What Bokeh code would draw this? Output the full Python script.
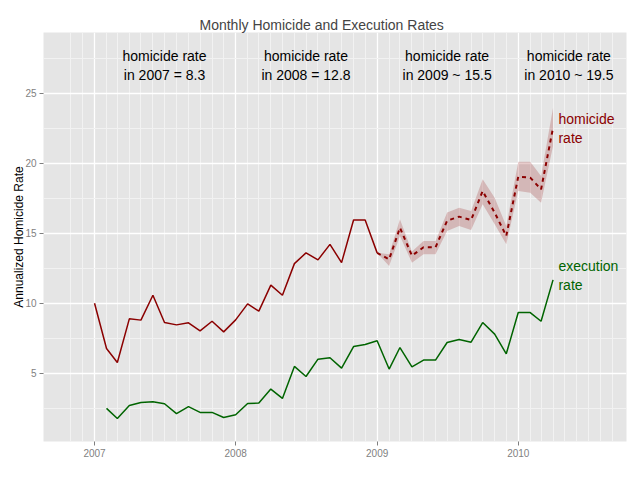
import pandas as pd
from bokeh.plotting import figure
from bokeh.models import ColumnDataSource, Range1d, FixedTicker, DatetimeTickFormatter
from bokeh.core.properties import value
from bokeh.embed import file_html
from bokeh.resources import INLINE

FONT = "Liberation Sans"

# ---- data ----
homicide_months = pd.date_range("2007-01-01", "2009-01-01", freq="MS")
homicide_rate = [10.0, 6.76, 5.76, 8.88, 8.79, 10.57, 8.62, 8.45, 8.6, 8.02, 8.71, 7.95,
                 8.81, 9.95, 9.43, 11.29, 10.57, 12.83, 13.6, 13.1, 14.21, 12.9, 15.95, 15.95,
                 13.6]

proj_months = pd.date_range("2009-01-01", "2010-04-01", freq="MS")
proj_rate = [13.6, 13.14, 15.4, 13.4, 14.0, 14.0, 15.9, 16.19, 15.95, 18.02, 16.48, 14.81,
             19.05, 18.98, 18.14, 22.55]
proj_lower = [13.6, 12.66, 14.8, 12.9, 13.5, 13.5, 15.16, 15.52, 15.24, 17.07, 15.64, 14.21,
              18.02, 17.9, 17.19, 21.24]
proj_upper = [13.6, 13.5, 16.0, 13.7, 14.45, 14.45, 16.48, 16.83, 16.6, 18.86, 17.55, 15.52,
              20.12, 20.12, 19.1, 23.98]

exec_months = pd.date_range("2007-02-01", "2010-04-01", freq="MS")
exec_rate = [2.48, 1.76, 2.69, 2.9, 2.95, 2.81, 2.1, 2.6, 2.19, 2.19, 1.83,
             2.02, 2.83, 2.86, 3.86, 3.19, 5.48, 4.76, 6.0, 6.1, 5.36, 6.9, 7.05,
             7.31, 5.29, 6.83, 5.45, 5.93, 5.93, 7.19, 7.4, 7.21, 8.62, 7.79, 6.38,
             9.33, 9.33, 8.71, 11.67]

ann_x = pd.to_datetime(["2007-07-01", "2008-07-01", "2009-07-01", "2010-05-12"])
ann_y = [27.0, 27.0, 27.0, 27.0]
ann_text = ["homicide rate\nin 2007 = 8.3", "homicide rate\nin 2008 = 12.8",
            "homicide rate\nin 2009 ~ 15.5", "homicide rate\nin 2010 ~ 19.5"]

lab_x = pd.to_datetime(["2010-04-15", "2010-04-15"])
lab_y = [22.5, 12.0]
lab_text = ["homicide\nrate", "execution\nrate"]
lab_color = ["#8B0000", "#006400"]

year_ticks = pd.to_datetime(["2007-01-01", "2008-01-01", "2009-01-01", "2010-01-01"])
month_ticks = pd.date_range("2006-11-01", "2010-09-01", freq="MS")
y_major = [5, 10, 15, 20, 25]
y_minor = [2.5, 7.5, 12.5, 17.5, 22.5, 27.5]


def ms(ts):
    return [t.value / 1e6 for t in ts]


p = figure(
    x_axis_type="datetime",
    frame_width=583, frame_height=409,
    min_border_left=43, min_border_right=1, min_border_top=32, min_border_bottom=23,
    output_backend="svg", toolbar_location=None,
    x_range=Range1d(pd.Timestamp("2006-08-22"), pd.Timestamp("2010-10-08")),
    y_range=Range1d(0.11, 29.36),
    title="Monthly Homicide and Execution Rates",
)
p.background_fill_color = "#E5E5E5"
p.border_fill_color = "white"
p.outline_line_color = None

p.title.text_font = FONT
p.title.text_font_size = "14px"
p.title.text_font_style = "normal"
p.title.align = "left"
p.title.offset = 156
p.title.standoff = 0

# grids
p.xgrid.grid_line_color = "white"
p.xgrid.grid_line_width = 1.3
p.xgrid.minor_grid_line_color = "#F2F2F2"
p.xgrid.minor_grid_line_width = 1
p.ygrid.grid_line_color = "white"
p.ygrid.grid_line_width = 1.3
p.ygrid.minor_grid_line_color = "#F2F2F2"
p.ygrid.minor_grid_line_width = 1

p.xaxis.ticker = FixedTicker(ticks=ms(year_ticks), minor_ticks=ms(month_ticks))
p.xaxis.formatter = DatetimeTickFormatter(years="%Y", months="%Y", days="%Y",
                                          hours="%Y", minutes="%Y", seconds="%Y")
p.yaxis.ticker = FixedTicker(ticks=y_major, minor_ticks=y_minor)

for ax in (p.xaxis, p.yaxis):
    ax.axis_line_color = None
    ax.major_tick_line_color = "#7F7F7F"
    ax.major_tick_out = 4
    ax.major_tick_in = 0
    ax.minor_tick_line_color = None
    ax.major_label_text_color = "#7F7F7F"
    ax.major_label_text_font = FONT
    ax.major_label_text_font_size = "10px"
    ax.major_label_standoff = 3

p.yaxis.axis_label = "Annualized Homicide Rate"
p.yaxis.axis_label_text_font = FONT
p.yaxis.axis_label_text_font_size = "12px"
p.yaxis.axis_label_text_font_style = "normal"
p.yaxis.axis_label_text_color = "black"
p.yaxis.axis_label_standoff = -4

# ribbon
src_proj = ColumnDataSource(dict(x=proj_months, y=proj_rate, lo=proj_lower, hi=proj_upper))
p.varea(x="x", y1="lo", y2="hi", source=src_proj, fill_color="#8B0000", fill_alpha=0.2)

# lines
p.line(homicide_months, homicide_rate, line_color="#8B0000", line_width=1.5)
p.line(x="x", y="y", source=src_proj, line_color="#8B0000", line_width=2, line_dash="4 4")
p.line(exec_months, exec_rate, line_color="#006400", line_width=1.5)

# annotations
p.text(x=ann_x, y=ann_y, text=ann_text, text_font=value(FONT), text_font_size="14px",
       text_align="center", text_baseline="middle", text_color="black", text_line_height=1.13)
src_lab = ColumnDataSource(dict(x=lab_x, y=lab_y, t=lab_text, c=lab_color))
p.text(x="x", y="y", text="t", text_color="c", source=src_lab, text_font=value(FONT),
       text_font_size="14px", text_align="left", text_baseline="middle", text_line_height=1.21)

open("out.html", "w").write(file_html(p, INLINE))
